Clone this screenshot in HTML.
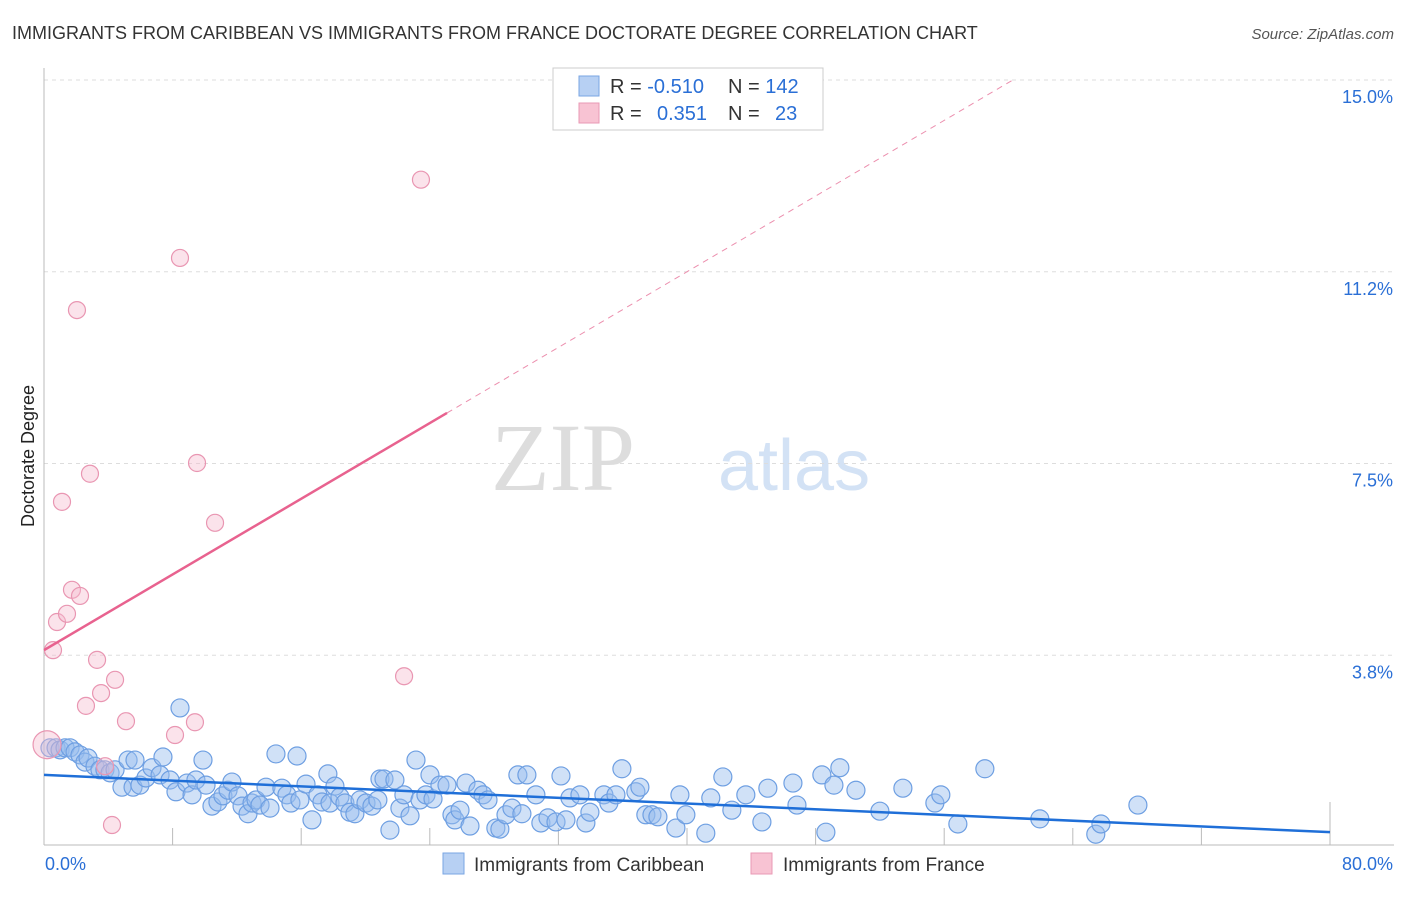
<!DOCTYPE html>
<html><head><meta charset="utf-8"><style>
body{margin:0;background:#fff;font-family:"Liberation Sans",sans-serif;}
</style></head><body>
<svg width="1406" height="892" xmlns="http://www.w3.org/2000/svg" id="chart">
<text x="12" y="39" font-size="18" fill="#333">IMMIGRANTS FROM CARIBBEAN VS IMMIGRANTS FROM FRANCE DOCTORATE DEGREE CORRELATION CHART</text>
<text x="1394" y="39" font-size="15" fill="#555" font-style="italic" text-anchor="end">Source: ZipAtlas.com</text>
<text x="635" y="490" font-size="96" fill="#ddd" text-anchor="end" font-family="Liberation Serif,serif">ZIP</text>
<text x="718" y="490" font-size="72" fill="#d3e2f5">atlas</text>
<text transform="translate(34,456) rotate(-90)" font-size="18" fill="#222" text-anchor="middle">Doctorate Degree</text>
<g id="grid"></g><g id="ticks"></g><g id="marks"></g>
<g>
<rect x="553" y="68" width="270" height="62" fill="#fff" stroke="#ccc"/>
<rect x="579" y="76" width="20" height="20" fill="#b7d0f3" stroke="#7aa6e3"/>
<rect x="579" y="103" width="20" height="20" fill="#f8c3d3" stroke="#e99ab4"/>
<text x="610" y="93" font-size="20" fill="#333">R = <tspan fill="#2a6fd6">-0.510</tspan><tspan x="728">N = </tspan><tspan fill="#2a6fd6">142</tspan></text>
<text x="610" y="120" font-size="20" fill="#333">R = <tspan fill="#2a6fd6" x="657">0.351</tspan><tspan x="728">N = </tspan><tspan fill="#2a6fd6" x="775">23</tspan></text>
</g>
<g>
<rect x="443" y="853" width="21" height="21" fill="#b7d0f3" stroke="#7aa6e3"/>
<text x="474" y="871" font-size="19" fill="#333">Immigrants from Caribbean</text>
<rect x="751" y="853" width="21" height="21" fill="#f8c3d3" stroke="#e99ab4"/>
<text x="783" y="871" font-size="19" fill="#333">Immigrants from France</text>
</g>
</svg>
<script>
const yTicks=[3.75,7.5,11.25,15];
const yTickLabels=["3.8%","7.5%","11.2%","15.0%"];
const xTickLabels=["0.0%","80.0%"];
const blueX=[0.37,0.75,1.0,1.31,1.62,1.93,2.24,2.55,2.74,3.17,3.48,3.79,4.11,4.42,4.85,5.23,5.66,5.54,5.97,6.34,6.72,7.22,7.40,7.84,8.21,8.46,8.89,9.21,9.45,9.89,10.08,10.45,10.82,11.13,11.45,11.69,12.07,12.32,12.69,12.94,13.19,13.44,13.81,14.06,14.43,14.80,15.11,15.36,15.74,15.92,16.30,16.67,17.04,17.29,17.66,17.79,18.10,18.41,18.72,19.03,19.34,19.66,20.03,20.40,20.77,20.90,21.15,21.52,21.83,22.14,22.39,22.77,23.14,23.39,23.76,24.01,24.20,24.63,25.07,25.38,25.56,25.88,26.25,26.50,26.99,27.31,27.62,28.11,28.36,28.74,29.11,29.48,29.73,30.04,30.60,30.91,31.35,31.85,32.16,32.47,32.72,33.34,33.71,33.96,34.83,35.14,35.58,35.95,36.82,37.07,37.44,37.82,38.19,39.31,39.56,39.93,41.17,41.48,42.23,42.79,43.66,44.66,45.03,46.59,46.84,48.39,48.64,49.14,49.51,50.51,52.00,53.43,55.42,55.79,56.85,58.53,61.95,65.43,65.75,68.05];
const blueY=[1.94,1.94,1.90,1.94,1.94,1.86,1.80,1.66,1.74,1.58,1.51,1.51,1.45,1.51,1.17,1.70,1.70,1.17,1.21,1.35,1.55,1.41,1.76,1.31,1.08,2.72,1.25,1.02,1.31,1.70,1.21,0.80,0.88,1.00,1.11,1.27,1.00,0.80,0.65,0.86,0.92,0.82,1.17,0.76,1.82,1.15,1.02,0.86,1.78,0.92,1.23,0.53,1.02,0.88,1.43,0.86,1.19,0.98,0.86,0.68,0.65,0.92,0.86,0.80,0.92,1.33,1.33,0.33,1.31,0.76,1.02,0.61,1.70,0.92,1.02,1.41,0.94,1.21,1.21,0.63,0.53,0.72,1.25,0.41,1.11,1.02,0.92,0.37,0.35,0.63,0.76,1.41,0.65,1.41,1.02,0.47,0.57,0.49,1.39,0.53,0.96,1.02,0.47,0.68,1.02,0.86,1.02,1.53,1.08,1.17,0.63,0.63,0.59,0.37,1.02,0.63,0.27,0.96,1.37,0.72,1.02,0.49,1.15,1.25,0.82,1.41,0.29,1.21,1.55,1.11,0.70,1.15,0.86,1.02,0.45,1.53,0.55,0.25,0.45,0.82];
const pinkX=[0.19,0.56,0.81,1.12,1.43,1.74,2.05,2.24,2.86,3.30,2.61,3.55,3.80,4.23,4.42,5.10,8.15,8.46,9.39,9.52,10.64,22.4,23.45];
const pinkY=[2.0,3.85,4.40,6.75,4.56,5.03,10.5,4.91,7.30,3.66,2.76,3.01,1.58,0.43,3.27,2.46,2.19,11.52,2.44,7.51,6.34,3.34,13.05];
const blueTrend=[1.41,0.29];       // y at x=0 and x=80
const pinkTrend=[3.85,0.185];      // intercept, slope
const pinkSolidEnd=25.07;

const X0=44,X1=1330,Y0=847,Y15=80;
const sx=v=>X0+(X1-X0)*v/80;
const sy=v=>Y0-(Y0-Y15)*v/15;
const NS="http://www.w3.org/2000/svg";
function mk(t,a,p){const e=document.createElementNS(NS,t);for(const k in a)e.setAttribute(k,a[k]);p.appendChild(e);return e;}
const grid=document.getElementById('grid'),ticks=document.getElementById('ticks'),marks=document.getElementById('marks');
yTicks.forEach((v,i)=>{
 const l=mk('line',{x1:X0,x2:1394,y1:sy(v),y2:sy(v),stroke:'#ddd','stroke-dasharray':'4,4'},grid);
 
 
 const t=mk('text',{x:1393,y:sy(v)+23,'font-size':18,fill:'#2a6fd6','text-anchor':'end'},ticks);
 t.textContent=yTickLabels[i];
 
 
});
const ax=mk('line',{x1:X0,x2:X0,y1:68,y2:845,stroke:'#bbb'},grid);


const bx=mk('line',{x1:X0,x2:1394,y1:845,y2:845,stroke:'#bbb'},grid);


for(let i=1;i<=10;i++){
 const x=sx(i*8), tk=mk('line',{x1:x,x2:x,y1:i==10?802:828,y2:845,stroke:'#bbb'},grid);
 
 
}
[[0,'start',45],[80,'end',1393]].forEach((d,i)=>{
 const t=mk('text',{x:d[2],y:870,'font-size':18,fill:'#2a6fd6','text-anchor':d[1]},ticks);
 t.textContent=xTickLabels[i];
 
 
});
blueX.forEach((x,i)=>{
 const c=mk('circle',{cx:sx(x),cy:sy(blueY[i]),r:9,fill:'rgba(150,188,238,0.45)',stroke:'#6e9fe2','stroke-width':1.2},marks);
 
 
});
pinkX.forEach((x,i)=>{
 const c=mk('circle',{cx:sx(x),cy:sy(pinkY[i]),r:i==0?14:8.5,fill:'rgba(246,184,204,0.4)',stroke:'#e996b2','stroke-width':1.2},marks);
 
 
});
const bt=mk('line',{x1:sx(0),y1:sy(blueTrend[0]),x2:sx(80),y2:sy(blueTrend[1]),stroke:'#1f6fd8','stroke-width':2.5},marks);


const pe=(15-pinkTrend[0])/pinkTrend[1];
const pd=mk('line',{x1:sx(pinkSolidEnd),y1:sy(pinkTrend[0]+pinkTrend[1]*pinkSolidEnd),x2:sx(pe),y2:sy(15),stroke:'#ec8fae','stroke-width':1,'stroke-dasharray':'6,5'},marks);


const ps=mk('line',{x1:sx(0),y1:sy(pinkTrend[0]),x2:sx(pinkSolidEnd),y2:sy(pinkTrend[0]+pinkTrend[1]*pinkSolidEnd),stroke:'#e8628f','stroke-width':2.5},marks);


</script>
</body></html>
